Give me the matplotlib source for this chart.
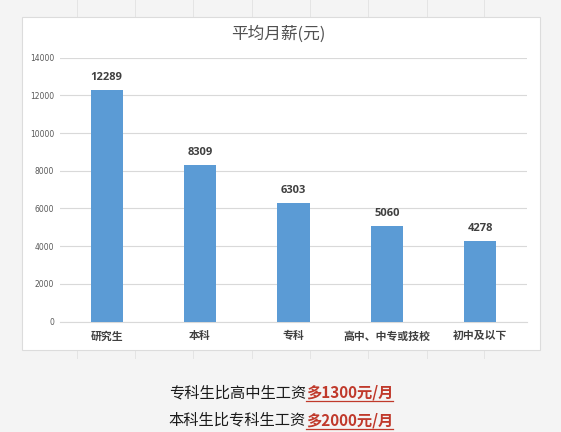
import matplotlib
matplotlib.use("Agg")
import matplotlib.pyplot as plt
from matplotlib.patches import Rectangle
from matplotlib.lines import Line2D

plt.rcParams['font.family'] = ['Noto Sans CJK SC', 'DejaVu Sans']

categories = ["研究生", "本科", "专科", "高中、中专或技校", "初中及以下"]
values = [12289, 8309, 6303, 5060, 4278]
yticks = [0, 2000, 4000, 6000, 8000, 10000, 12000, 14000]
title = "平均月薪(元)"
note_lines = [("专科生比高中生工资", "多1300元/月"), ("本科生比专科生工资", "多2000元/月")]

W, H = 561, 432
fig = plt.figure(figsize=(W / 100, H / 100), dpi=100)
fig.patch.set_facecolor("#f4f4f4")

# faint spreadsheet cell lines peeking around the chart panel
for cx in [77, 135, 193, 252, 310, 368, 427, 484]:
    for y0, y1 in [(0, 17), (350, 358)]:
        fig.lines.append(Line2D([cx / W, cx / W], [1 - y0 / H, 1 - y1 / H],
                                transform=fig.transFigure, color="#e4e4e4",
                                linewidth=0.7, zorder=-6))

fig.patches.append(Rectangle((22 / W, 1 - 350 / H), (540 - 22) / W, (350 - 17) / H,
                             transform=fig.transFigure, facecolor="white",
                             edgecolor="#dcdcdc", linewidth=0.8, zorder=-5))

ax = fig.add_axes([60 / W, 1 - 321.5 / H, (527 - 60) / W, (321.5 - 57.7) / H])
ax.set_facecolor("none")
ax.set_zorder(2)
x = list(range(len(categories)))
ax.bar(x, values, width=0.343, color="#5b9bd5", zorder=3)
ax.set_xlim(-0.5, len(categories) - 0.5)
ax.set_ylim(0, 14000)
ax.set_yticks(yticks)
ax.set_yticklabels([str(v) for v in yticks], fontsize=5.5, color="#595959",
                   family="DejaVu Sans")
ax.set_xticks(x)
ax.set_xticklabels(categories, fontsize=7.8, color="#404040", fontweight="bold")
ax.grid(axis="y", color="#d9d9d9", linewidth=0.8, zorder=0)
for s in ax.spines.values():
    s.set_visible(False)
ax.spines["bottom"].set_visible(True)
ax.spines["bottom"].set_color("#d9d9d9")
ax.tick_params(axis="x", length=0, pad=7)
ax.tick_params(axis="y", length=0, pad=4.3)

for xi, v in zip(x, values):
    ax.annotate(str(v), (xi, v), xytext=(0, 9), textcoords="offset points",
                ha="center", va="center", fontsize=8, fontweight="bold",
                color="#404040", family="Open Sans")

fig.text(278 / W, 1 - 34 / H, title, ha="center", va="center", fontsize=12, color="#505050")

fig.canvas.draw()
renderer = fig.canvas.get_renderer()
ys = [392.7, 420]
for (black, red), yp in zip(note_lines, ys):
    t1 = fig.text(0, 1 - yp / H, black, ha="left", va="center", fontsize=11,
                  color="#1a1a1a", fontweight="medium")
    t2 = fig.text(0, 1 - yp / H, red, ha="left", va="center", fontsize=11, color="#c0392b",
                  fontweight="bold")
    w1 = t1.get_window_extent(renderer).width
    w2 = t2.get_window_extent(renderer).width
    x0 = 281 - (w1 + w2) / 2
    t1.set_x(x0 / W)
    t2.set_x((x0 + w1) / W)
    uy = 1 - (yp + 8.5) / H
    fig.lines.append(Line2D([(x0 + w1) / W, (x0 + w1 + w2) / W], [uy, uy],
                            transform=fig.transFigure, color="#c0392b", linewidth=0.9))

fig.savefig("out.png", dpi=100, facecolor=fig.get_facecolor())
